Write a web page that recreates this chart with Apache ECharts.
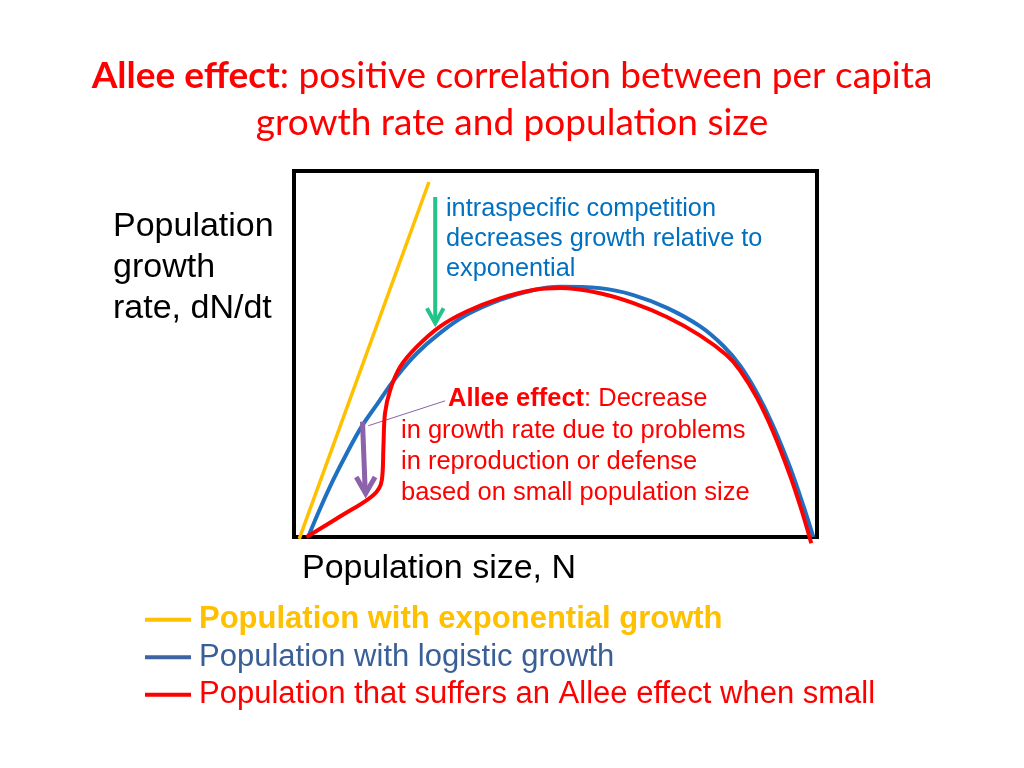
<!DOCTYPE html>
<html><head><meta charset="utf-8">
<script src="https://cdn.jsdelivr.net/npm/echarts@6/dist/echarts.min.js"></script>
<style>html,body{margin:0;padding:0;background:#fff}#c{width:1024px;height:768px}</style>
</head><body><div id="c"></div>
<script>
// ---- data ----
const seriesNames = [
  'Population with exponential growth',
  'Population with logistic growth',
  'Population that suffers an Allee effect when small'
];
const exponential = [[1.0, -0.5], [25.8, 97.0]];
const logistic = [[2.7,0],[5.0,7.8],[7.5,15.6],[10.1,22.9],[12.9,30.1],[15.8,36.1],[19.6,43.8],[23.5,50.2],[27.9,55.7],[33.0,60.7],[39.4,64.8],[45.8,67.5],[50.9,68.4],[58.5,68.0],[64.9,66.1],[71.3,62.6],[77.6,57.6],[82.1,52.2],[85.3,46.8],[88.5,39.4],[91.6,30.4],[94.8,19.2],[97.4,8.5],[99.3,0]];
const allee = [[2.4,0],[8.8,5.6],[15.2,11.5],[16.8,15.6],[17.1,24.7],[17.4,33.8],[18.4,40.2],[20.3,46.5],[23.5,52.0],[27.9,57.5],[33.0,61.6],[39.4,65.2],[45.8,67.5],[50.9,68.0],[58.5,66.6],[64.9,63.9],[71.3,60.1],[77.6,55.1],[82.7,49.7],[85.3,45.5],[88.5,38.1],[91.6,28.8],[94.8,17.0],[97.1,7.1],[98.9,-1.7]];
const competitionShaft = [[27.0, 92.9], [27.0, 59.2]];
const competitionHead = [[25.4, 62.5], [27.0, 58.4], [28.6, 62.5]];
const alleeShaft = [[13.1, 31.5], [13.6, 13.0]];
const alleeHead = [[11.9, 16.4], [13.7, 11.9], [15.5, 16.4]];
const alleePointer = [[14.2, 30.4], [28.9, 37.2]];
const titleLines = ['Allee effect', ': positive correlation between per capita', 'growth rate and population size'];
const yLabelLines = ['Population', 'growth', 'rate, dN/dt'];
const xLabel = 'Population size, N';
const competitionNote = ['intraspecific competition', 'decreases growth relative to', 'exponential'];
const alleeNote = ['Allee effect', ': Decrease', 'in growth rate due to problems', 'in reproduction or defense', 'based on small population size'];

// ---- chart ----
const chart = echarts.init(document.getElementById('c'), null, {renderer: 'canvas'});
const F = 'Liberation Sans, Arial, sans-serif';
const RED = '#ff0000', BLUE = '#1f70c0', GOLD = '#ffc000';

function line(name, data, color, width, extra) {
  return Object.assign({
    name, type: 'line', data, symbol: 'none', showSymbol: false, clip: false,
    silent: true, animation: false,
    lineStyle: {color, width, cap: 'butt', join: 'round'},
    itemStyle: {color}
  }, extra || {});
}

function txt(x, y, text, color, size, extra) {
  return Object.assign({
    type: 'text', x, y, silent: true,
    style: {text, fill: color, fontSize: size, fontFamily: F, align: 'left', verticalAlign: 'middle'}
  }, extra || {});
}

const graphics = [
  {type: 'text', x: 512, y: 76, silent: true, style: {
    text: '{b|' + titleLines[0] + '}{n|' + titleLines[1] + '}', align: 'center', verticalAlign: 'middle',
    rich: {
      b: {fontFamily: 'Lato', fontWeight: 'bold', fontSize: 37, fill: RED, color: RED},
      n: {fontFamily: 'Lato', fontSize: 37, fill: RED, color: RED}
    }}},
  {type: 'text', x: 512, y: 123, silent: true, style: {
    text: titleLines[2], fontFamily: 'Lato', fontSize: 37, fill: RED, align: 'center', verticalAlign: 'middle'}},
  txt(113, 227, yLabelLines[0], '#000', 34),
  txt(113, 268, yLabelLines[1], '#000', 34),
  txt(113, 309, yLabelLines[2], '#000', 34),
  txt(302, 569, xLabel, '#000', 34),
  txt(446, 209, competitionNote[0], '#0070c0', 25.3),
  txt(446, 239, competitionNote[1], '#0070c0', 25.3),
  txt(446, 269, competitionNote[2], '#0070c0', 25.3),
  {type: 'text', x: 448, y: 399, silent: true, style: {
    text: '{b|' + alleeNote[0] + '}{n|' + alleeNote[1] + '}', align: 'left', verticalAlign: 'middle',
    rich: {
      b: {fontFamily: F, fontWeight: 'bold', fontSize: 25.5, fill: RED, color: RED},
      n: {fontFamily: F, fontSize: 25.5, fill: RED, color: RED}
    }}},
  txt(401, 431, alleeNote[2], RED, 25.5),
  txt(401, 462, alleeNote[3], RED, 25.5),
  txt(401, 493, alleeNote[4], RED, 25.5)
];

chart.setOption({
  animation: false,
  backgroundColor: '#fff',
  grid: {left: 294, top: 171, width: 523, height: 366, show: true, borderColor: '#000', borderWidth: 4, backgroundColor: 'transparent'},
  xAxis: {type: 'value', min: 0, max: 100, axisLine: {show: false}, axisTick: {show: false}, axisLabel: {show: false}, splitLine: {show: false}},
  yAxis: {type: 'value', min: 0, max: 100, axisLine: {show: false}, axisTick: {show: false}, axisLabel: {show: false}, splitLine: {show: false}},
  legend: {
    orient: 'vertical', left: 145, top: 601, padding: 0, itemGap: 0,
    itemWidth: 46, itemHeight: 4, icon: 'rect', selectedMode: false,
    textStyle: {fontSize: 31, lineHeight: 37.5, fontFamily: F, padding: [0, 0, 0, 3]},
    data: [
      {name: seriesNames[0], itemStyle: {color: GOLD}, textStyle: {color: GOLD, fontWeight: 'bold'}},
      {name: seriesNames[1], itemStyle: {color: '#3d64a0'}, textStyle: {color: '#3a5f96'}},
      {name: seriesNames[2], itemStyle: {color: RED}, textStyle: {color: RED}}
    ]
  },
  series: [
    line(seriesNames[0], exponential, GOLD, 3.5, {z: 3}),
    line(seriesNames[1], logistic, BLUE, 4, {smooth: 0.4, z: 3}),
    line(seriesNames[2], allee, RED, 4, {smooth: 0.35, z: 4}),
    line('competition arrow', competitionShaft, '#22c48a', 4),
    line('competition arrow head', competitionHead, '#22c48a', 4, {lineStyle: {color: '#22c48a', width: 4, join: 'miter', cap: 'butt'}}),
    line('allee arrow', alleeShaft, '#8c62aa', 5),
    line('allee arrow head', alleeHead, '#8c62aa', 5, {lineStyle: {color: '#8c62aa', width: 5, join: 'miter', cap: 'butt'}}),
    line('allee pointer', alleePointer, '#8c62aa', 1)
  ],
  graphic: graphics
});
</script>
</body></html>
